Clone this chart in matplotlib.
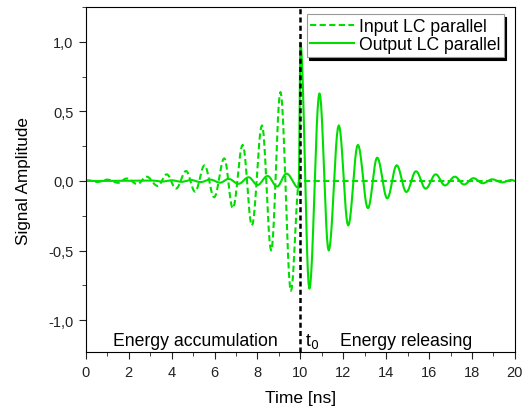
import matplotlib
matplotlib.use("Agg")
import matplotlib.pyplot as plt
import numpy as np
from matplotlib.ticker import FuncFormatter, MultipleLocator

plt.rcParams['font.family'] = ['Liberation Sans', 'DejaVu Sans']

green = "#00dd00"

# extrema (time in ns, amplitude)
input_t = [0.0, 0.1, 0.55, 1.0, 1.5, 1.9, 2.4, 2.83, 3.35, 3.77, 4.2, 4.67, 5.09, 5.53, 5.98,
           6.45, 6.85, 7.31, 7.74, 8.21, 8.64, 9.07, 9.56, 9.95, 20.0]
input_y = [0.0, 0.005, -0.007, 0.01, -0.013, 0.018, -0.022, 0.031, -0.036, 0.048, -0.055, 0.072, -0.077,
           0.113, -0.117, 0.163, -0.196, 0.26, -0.32, 0.40, -0.50, 0.64, -0.79, 0.0, 0.0]

output_t = [0.0, 3.1, 3.55, 4.0, 4.45, 4.9, 5.35, 5.8, 6.26, 6.65, 7.12, 7.59, 8.0, 8.47, 8.91, 9.35, 9.92,
            10.0, 10.42, 10.89, 11.32, 11.79, 12.23, 12.68, 13.15, 13.58, 14.05, 14.49, 14.94, 15.39,
            15.84, 16.31, 16.74, 17.2, 17.63, 18.07, 18.5, 18.95, 19.4, 19.85, 20.0]
output_y = [0.0, 0.003, -0.004, 0.005, -0.006, 0.007, -0.008, 0.01, -0.012, 0.015, -0.02, 0.027, -0.029,
            0.036, -0.04, 0.053, -0.05,
            0.995, -0.774, 0.63, -0.50, 0.40, -0.32, 0.26, -0.196, 0.168, -0.125, 0.113, -0.079, 0.07,
            -0.055, 0.048, -0.032, 0.031, -0.025, 0.02, -0.016, 0.012, -0.01, 0.008, 0.0]


def smooth_path(ts, ys, n=12):
    """ joins consecutive extrema with half cosine arcs """
    xs, vs = [ts[0]], [ys[0]]
    for i in range(len(ts) - 1):
        s = np.linspace(0, 1, n)[1:]
        xs.extend(ts[i] + (ts[i + 1] - ts[i]) * s)
        vs.extend(ys[i] + (ys[i + 1] - ys[i]) * (1 - np.cos(np.pi * s)) / 2)
    return xs, vs


fig = plt.figure(figsize=(5.27, 4.1), dpi=100)
ax = fig.add_axes([0.163, 0.139, 0.814, 0.841])

x_in, y_in = smooth_path(input_t, input_y)
x_out, y_out = smooth_path(output_t, output_y)
ax.plot(x_in, y_in, color=green, linestyle=(0, (3, 1.6)), linewidth=1.5, label="Input LC parallel")
ax.plot(x_out, y_out, color=green, linewidth=1.5, label="Output LC parallel")
ax.axvline(10, color="black", linestyle=(0, (2, 1.3)), linewidth=1.8)

ax.set_xlim(0, 20)
ax.set_ylim(-1.23, 1.25)
ax.xaxis.set_major_locator(MultipleLocator(2))
ax.xaxis.set_minor_locator(MultipleLocator(1))
ax.yaxis.set_major_locator(MultipleLocator(0.5))
ax.yaxis.set_minor_locator(MultipleLocator(0.25))
ax.yaxis.set_major_formatter(FuncFormatter(lambda v, p: ("%.1f" % v).replace(".", ",")))
ax.tick_params(which="both", direction="out", labelsize=10.5, top=False, right=False, colors="#222222")
ax.tick_params(which="major", length=5, pad=4)
ax.tick_params(which="minor", length=3)

ax.set_xlabel("Time [ns]", fontsize=12.5, labelpad=8)
ax.set_ylabel("Signal Amplitude", fontsize=12.3, labelpad=12)

ax.text(5.1, -1.15, "Energy accumulation", fontsize=12.7, ha="center", va="center")
ax.text(10.2, -1.15, "t$_0$", fontsize=12.7, ha="left", va="center")
ax.text(14.95, -1.15, "Energy releasing", fontsize=12.7, ha="center", va="center")

leg = ax.legend(loc="upper right", bbox_to_anchor=(0.982, 0.99), fontsize=12.7, fancybox=False,
                shadow={"color": "black", "alpha": 1}, framealpha=1, edgecolor="#999999",
                handlelength=2.5, handletextpad=0.25, borderpad=0.2, labelspacing=0.1, borderaxespad=0.2)
leg.get_frame().set_linewidth(0.8)

fig.savefig("out.png", dpi=100)
